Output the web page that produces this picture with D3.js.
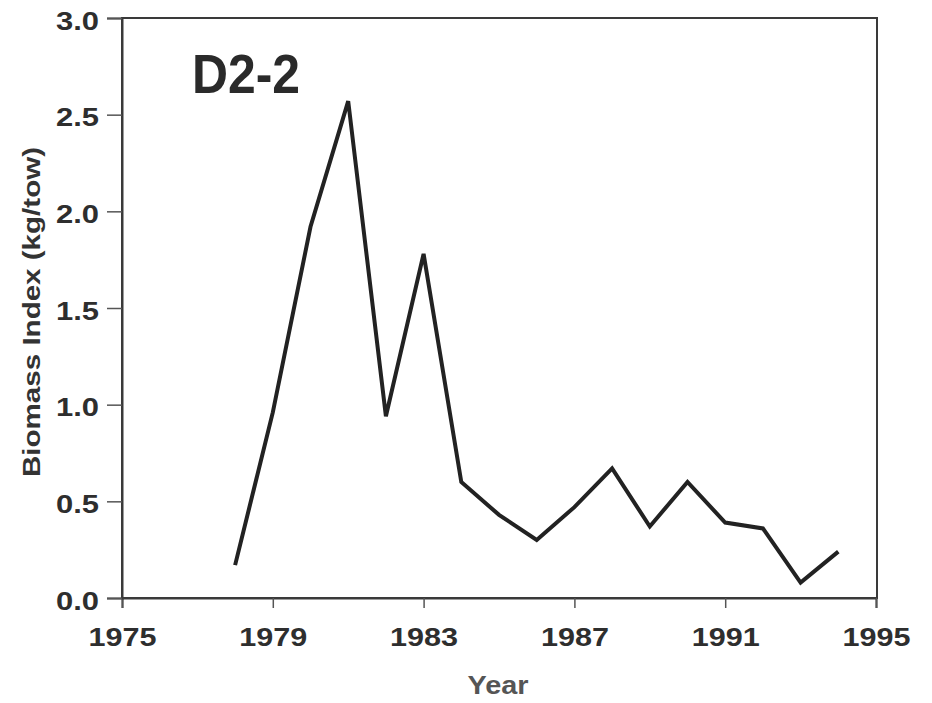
<!DOCTYPE html>
<html>
<head>
<meta charset="utf-8">
<script src="https://cdn.jsdelivr.net/npm/d3@7"></script>
<style>
  html, body { margin: 0; padding: 0; background: #ffffff; }
  svg { display: block; }
  text { font-family: "Liberation Sans", Arial, Helvetica, sans-serif; font-weight: bold; }
</style>
</head>
<body>
<svg id="chart" width="932" height="703"></svg>
<script>
const years = [1978, 1979, 1980, 1981, 1982, 1983, 1984, 1985, 1986, 1987, 1988, 1989, 1990, 1991, 1992, 1993, 1994];
const biomass = [0.17, 0.96, 1.92, 2.57, 0.94, 1.78, 0.60, 0.43, 0.30, 0.47, 0.67, 0.37, 0.60, 0.39, 0.36, 0.08, 0.24];
const xTicks = [1975, 1979, 1983, 1987, 1991, 1995];
const yTicks = [0.0, 0.5, 1.0, 1.5, 2.0, 2.5, 3.0];
const panelLabel = "D2-2";
const xTitle = "Year";
const yTitle = "Biomass Index (kg/tow)";

const svg = d3.select("#chart");
const mLeft = 122, mRight = 876, mTop = 18, mBottom = 598;

const x = d3.scaleLinear().domain([1975, 1995]).range([mLeft, mRight]);
const y = d3.scaleLinear().domain([0, 3]).range([mBottom, mTop]);

// frame (top and right)
svg.append("rect")
  .attr("x", mLeft).attr("y", mTop)
  .attr("width", mRight - mLeft + 1).attr("height", mBottom - mTop)
  .attr("fill", "none").attr("stroke", "#3a3a3a").attr("stroke-width", 2);

// x axis
const xAxis = svg.append("g").attr("transform", `translate(0,${mBottom})`)
  .call(d3.axisBottom(x).tickValues(xTicks).tickFormat(d3.format("d")).tickSize(10).tickPadding(20));
xAxis.select(".domain").attr("stroke", "#3a3a3a").attr("stroke-width", 2);
xAxis.selectAll(".tick line").attr("stroke", "#555").attr("stroke-width", 1.5);
xAxis.selectAll(".tick text")
  .attr("font-size", 25).attr("fill", "#2e2e2e")
  .attr("dy", "0.71em")
  .attr("textLength", 68).attr("lengthAdjust", "spacingAndGlyphs")
  .style("font-family", "'Liberation Sans', Arial, sans-serif").style("font-weight", "bold");

// y axis
const yAxis = svg.append("g").attr("transform", `translate(${mLeft},0)`)
  .call(d3.axisLeft(y).tickValues(yTicks).tickFormat(d3.format(".1f")).tickSize(15).tickPadding(8));
yAxis.select(".domain").attr("stroke", "#3a3a3a").attr("stroke-width", 2);
yAxis.selectAll(".tick line").attr("stroke", "#555").attr("stroke-width", 1.5);
yAxis.selectAll(".tick text")
  .attr("font-size", 25).attr("fill", "#2e2e2e")
  .attr("dy", "0.45em")
  .attr("textLength", 43).attr("lengthAdjust", "spacingAndGlyphs")
  .style("font-family", "'Liberation Sans', Arial, sans-serif").style("font-weight", "bold");

// data line
const line = d3.line().x((d, i) => x(years[i])).y(d => y(d));
svg.append("path")
  .datum(biomass)
  .attr("d", line)
  .attr("fill", "none")
  .attr("stroke", "#222")
  .attr("stroke-width", 4)
  .attr("stroke-linejoin", "miter");

// panel label
svg.append("text")
  .attr("x", 192).attr("y", 93)
  .attr("font-size", 55)
  .attr("textLength", 108).attr("lengthAdjust", "spacingAndGlyphs")
  .attr("fill", "#2a2a2a")
  .text(panelLabel);

// x title
svg.append("text")
  .attr("x", 498).attr("y", 694)
  .attr("text-anchor", "middle")
  .attr("font-size", 25)
  .attr("textLength", 61).attr("lengthAdjust", "spacingAndGlyphs")
  .attr("fill", "#555")
  .text(xTitle);

// y title
svg.append("text")
  .attr("transform", "translate(40,312) rotate(-90)")
  .attr("text-anchor", "middle")
  .attr("font-size", 23)
  .attr("textLength", 330).attr("lengthAdjust", "spacingAndGlyphs")
  .attr("fill", "#333")
  .text(yTitle);
</script>
</body>
</html>
